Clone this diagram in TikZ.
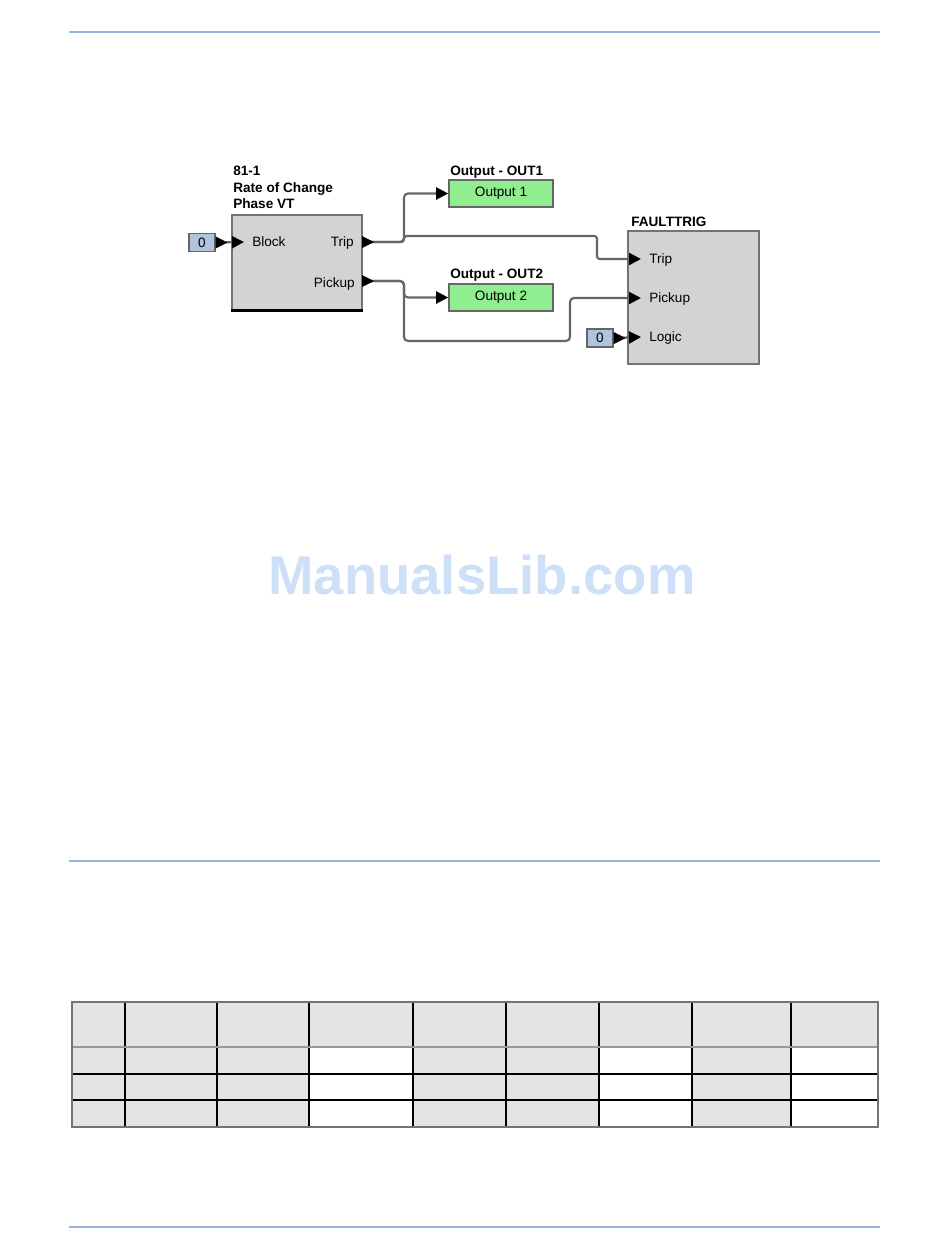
\documentclass[tikz,border=0pt]{standalone}
\usepackage{fontspec}
\setmainfont{Liberation Sans}
\usetikzlibrary{arrows.meta}
\definecolor{fnfill}{RGB}{211,211,211}
\definecolor{outfill}{RGB}{144,238,144}
\definecolor{constfill}{RGB}{176,196,222}
\definecolor{rulebl}{RGB}{150,182,222}
\definecolor{markbl}{RGB}{205,224,247}
\definecolor{cellgray}{RGB}{228,228,228}
\tikzset{
  fnbox/.style={draw=black!55, fill=fnfill, line width=1.2pt},
  outbox/.style={draw=black!60, fill=outfill, line width=1.2pt, minimum width=78pt, minimum height=20.5pt, inner sep=0pt, font=\fontsize{10.2}{11}\selectfont},
  constbox/.style={draw=black!60, fill=constfill, line width=1.1pt, minimum width=19.5pt, minimum height=13.5pt, inner sep=0pt, font=\fontsize{10.2}{11}\selectfont},
  wire/.style={draw=black!60, line width=1.6pt, rounded corners=3pt, -{Triangle[length=9pt,width=9pt,color=black]}},
  lbl/.style={inner sep=0pt, font=\fontsize{10.2}{11}\selectfont},
  ttl/.style={inner sep=0pt, font=\fontsize{10.2}{12.4}\selectfont\bfseries, align=left}
}
\newcommand{\outport}[1]{\fill (#1) ++(0,-6) -- ++(12,6) -- ++(-12,6) -- cycle;}

\begin{document}
\begin{tikzpicture}[x=0.75pt,y=-0.75pt]
\useasboundingbox (0,0) rectangle (950,1260);
\def\rulerow#1{\draw[rulebl, line width=1.5pt] (69,#1) -- (880,#1);}
\rulerow{32}
\rulerow{861}
\rulerow{1227}

\node[anchor=base west, inner sep=0pt, text=markbl, font=\fontsize{40.9}{44}\selectfont\bfseries] (mark) at (268,594) {ManualsLib.com};

% function blocks
\node[fnbox, minimum width=97.5pt, minimum height=71.25pt] (roc) at (297,262.5) {};
\draw[black, line width=2pt] (roc.south west) -- (roc.south east);
\node[fnbox, minimum width=98.25pt, minimum height=99.75pt] (ftrig) at (693.5,297.5) {};
\node[outbox] (out1) at (501,193.5) {Output 1};
\node[outbox] (out2) at (501,297.5) {Output 2};
\node[constbox] (zero1) at (202,242.5) {0};
\node[constbox] (zero2) at (600,338) {0};

\node[ttl, anchor=south west] (rocttl) at (233,209) {81-1\\Rate of Change\\Phase VT};
\node[ttl, anchor=base west] (out1ttl) at (450,175) {Output - OUT1};
\node[ttl, anchor=base west] (out2ttl) at (450,278) {Output - OUT2};
\node[ttl, anchor=base west] (ftttl) at (631,226) {FAULTTRIG};

\node[lbl, anchor=base west] (rocblk) at (252,246.7) {Block};
\node[lbl, anchor=base east] (roctrp) at (354,246.7) {Trip};
\node[lbl, anchor=base east] (rocpck) at (355,287.7) {Pickup};
\node[lbl, anchor=base west] (fttrp) at (649,263.5) {Trip};
\node[lbl, anchor=base west] (ftpck) at (649,302.5) {Pickup};
\node[lbl, anchor=base west] (ftlgc) at (649,341.5) {Logic};

% ports
\coordinate (rocBlock) at (244,242);
\coordinate (rocTrip) at (362,242);
\coordinate (rocPick) at (362,281);
\coordinate (ftTrip) at (641,259);
\coordinate (ftPick) at (641,298);
\coordinate (ftLogic) at (641,337);

\draw[wire] (zero1.east) -- (rocBlock);
\draw[wire] (zero2.east) -- (ftLogic);
\draw[wire] (rocTrip) -- (404,242) |- (out1.west);
\draw[wire, rounded corners=2pt] (rocTrip) -- (404,242) |- (597,236) |- (ftTrip);
\draw[wire] (rocPick) -- (404,281) |- (out2.west);
\draw[wire] (rocPick) -- (404,281) |- (570,341) |- (ftPick);
\outport{zero1.east}
\outport{zero2.east}
\outport{rocTrip}
\outport{rocPick}

% table
\fill[cellgray] (72,1002) rectangle (878,1127);
\foreach \a/\b in {309/413,599/692,791/878}
  \fill[white] (\a,1047) rectangle (\b,1127);
\foreach \x in {125,217,309,413,506,599,692,791}
  \draw[black, line width=0.9pt] (\x,1002) -- (\x,1127);
\foreach \y in {1074,1100}
  \draw[black, line width=0.9pt] (72,\y) -- (878,\y);
\draw[black!40, line width=1pt] (72,1047) -- (878,1047);
\draw[black!55, line width=1.2pt] (72,1002) rectangle (878,1127);
\end{tikzpicture}
\end{document}
